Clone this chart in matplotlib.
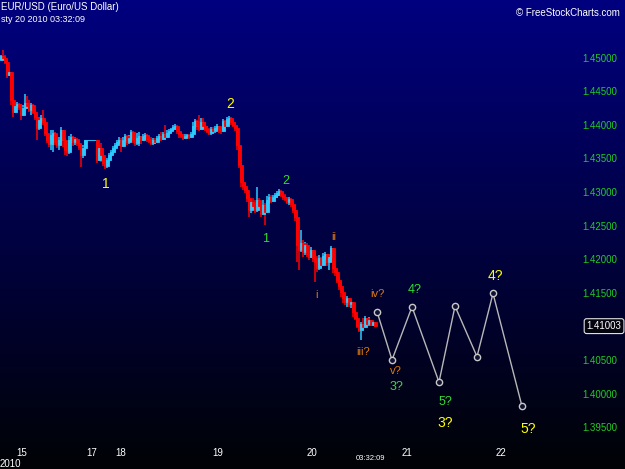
"""EUR/USD 30-minute candles with an Elliott wave count (FreeStockCharts style)."""
import numpy as np
import matplotlib
matplotlib.use('Agg')
import matplotlib.pyplot as plt

plt.rcParams['font.family'] = ['Liberation Sans', 'DejaVu Sans']

# --- data ------------------------------------------------------------------
FIRST_OPEN = 1.4496
CLOSES = [
    1.4502, 1.4499, 1.4493, 1.4474, 1.4478, 1.4437, 1.4419, 1.4428, 1.4431, 1.4426,
    1.4414, 1.4425, 1.4432, 1.4428, 1.4422, 1.4429, 1.4419, 1.4411, 1.4395, 1.4407,
    1.4410, 1.4404, 1.4388, 1.4377, 1.4371, 1.4385, 1.4388, 1.4374, 1.4370, 1.4377,
    1.4392, 1.4377, 1.4362, 1.4359, 1.4377, 1.4382, 1.4374, 1.4379, 1.4373, 1.4367,
    1.4355, 1.4365, 1.4378, 1.4378, 1.4378, 1.4378, 1.4378, 1.4378, 1.4347, 1.4365,
    1.4355, 1.4343, 1.4339, 1.4347, 1.4355, 1.4359, 1.4365, 1.4370, 1.4374, 1.4377,
    1.4368, 1.4377, 1.4383, 1.4374, 1.4380, 1.4389, 1.4377, 1.4373, 1.4380, 1.4383,
    1.4377, 1.4383, 1.4385, 1.4379, 1.4376, 1.4373, 1.4377, 1.4374, 1.4380, 1.4383,
    1.4379, 1.4386, 1.4382, 1.4388, 1.4391, 1.4394, 1.4397, 1.4398, 1.4391, 1.4386,
    1.4383, 1.4380, 1.4383, 1.4385, 1.4382, 1.4386, 1.4398, 1.4405, 1.4398, 1.4393,
    1.4404, 1.4398, 1.4393, 1.4390, 1.4387, 1.4393, 1.4390, 1.4395, 1.4398, 1.4392,
    1.4391, 1.4405, 1.4398, 1.4408, 1.4410, 1.4404, 1.4400, 1.4395, 1.4370, 1.4340,
    1.4315, 1.4309, 1.4303, 1.4291, 1.4273, 1.4285, 1.4279, 1.4273, 1.4288, 1.4279,
    1.4267, 1.4281, 1.4270, 1.4288, 1.4292, 1.4286, 1.4292, 1.4295, 1.4298, 1.4301,
    1.4295, 1.4292, 1.4289, 1.4285, 1.4289, 1.4282, 1.4273, 1.4262, 1.4221, 1.4214,
    1.4224, 1.4211, 1.4221, 1.4207, 1.4203, 1.4214, 1.4202, 1.4196, 1.4187, 1.4202,
    1.4191, 1.4205, 1.4208, 1.4196, 1.4203, 1.4216, 1.4187, 1.4181, 1.4169, 1.4160,
    1.4151, 1.4142, 1.4136, 1.4142, 1.4133, 1.4136, 1.4121, 1.4112, 1.4100, 1.4094,
    1.4103, 1.4099, 1.4112, 1.4103, 1.4109, 1.4102, 1.4106, 1.41003,
]
HIGHS = [
    1.4504, 1.4511, 1.4504, 1.4496, 1.4481, 1.4478, 1.4440, 1.4432, 1.4434, 1.4432,
    1.4431, 1.4429, 1.4446, 1.4443, 1.4437, 1.4432, 1.4431, 1.4422, 1.4414, 1.4411,
    1.4414, 1.4422, 1.4407, 1.4389, 1.4383, 1.4392, 1.4392, 1.4389, 1.4380, 1.4382,
    1.4396, 1.4392, 1.4380, 1.4370, 1.4383, 1.4386, 1.4383, 1.4382, 1.4380, 1.4377,
    1.4370, 1.4370, 1.4378, 1.4378, 1.4378, 1.4378, 1.4378, 1.4378, 1.4378, 1.4370,
    1.4373, 1.4358, 1.4347, 1.4350, 1.4358, 1.4362, 1.4368, 1.4373, 1.4377, 1.4382,
    1.4380, 1.4382, 1.4386, 1.4385, 1.4385, 1.4392, 1.4391, 1.4383, 1.4388, 1.4389,
    1.4383, 1.4386, 1.4388, 1.4386, 1.4383, 1.4382, 1.4380, 1.4380, 1.4383, 1.4386,
    1.4389, 1.4389, 1.4400, 1.4392, 1.4394, 1.4395, 1.4400, 1.4401, 1.4400, 1.4394,
    1.4389, 1.4386, 1.4386, 1.4386, 1.4386, 1.4389, 1.4404, 1.4408, 1.4407, 1.4414,
    1.4410, 1.4410, 1.4404, 1.4398, 1.4395, 1.4396, 1.4396, 1.4398, 1.4401, 1.4398,
    1.4397, 1.4408, 1.4407, 1.4411, 1.4413, 1.4411, 1.4407, 1.4403, 1.4398, 1.4370,
    1.4343, 1.4318, 1.4313, 1.4306, 1.4296, 1.4290, 1.4291, 1.4288, 1.4307, 1.4291,
    1.4282, 1.4288, 1.4284, 1.4294, 1.4297, 1.4295, 1.4295, 1.4298, 1.4301, 1.4304,
    1.4303, 1.4300, 1.4297, 1.4292, 1.4292, 1.4291, 1.4285, 1.4281, 1.4266, 1.4228,
    1.4243, 1.4228, 1.4225, 1.4224, 1.4214, 1.4218, 1.4214, 1.4211, 1.4205, 1.4206,
    1.4203, 1.4209, 1.4211, 1.4208, 1.4208, 1.4219, 1.4216, 1.4190, 1.4184, 1.4173,
    1.4166, 1.4154, 1.4148, 1.4145, 1.4142, 1.4139, 1.4136, 1.4124, 1.4115, 1.4103,
    1.4106, 1.4112, 1.4115, 1.4112, 1.4114, 1.4110, 1.4108, 1.4106,
]
LOWS = [
    1.4496, 1.4496, 1.4491, 1.4469, 1.4472, 1.4429, 1.4411, 1.4417, 1.4425, 1.4422,
    1.4407, 1.4413, 1.4422, 1.4423, 1.4419, 1.4414, 1.4416, 1.4407, 1.4377, 1.4392,
    1.4401, 1.4400, 1.4383, 1.4373, 1.4367, 1.4362, 1.4359, 1.4370, 1.4365, 1.4362,
    1.4370, 1.4367, 1.4355, 1.4353, 1.4357, 1.4373, 1.4368, 1.4370, 1.4368, 1.4362,
    1.4337, 1.4350, 1.4362, 1.4378, 1.4378, 1.4378, 1.4378, 1.4378, 1.4343, 1.4347,
    1.4344, 1.4338, 1.4334, 1.4335, 1.4344, 1.4352, 1.4358, 1.4362, 1.4367, 1.4371,
    1.4359, 1.4367, 1.4374, 1.4370, 1.4371, 1.4374, 1.4373, 1.4368, 1.4370, 1.4368,
    1.4371, 1.4376, 1.4377, 1.4374, 1.4373, 1.4370, 1.4370, 1.4371, 1.4373, 1.4377,
    1.4376, 1.4377, 1.4377, 1.4380, 1.4385, 1.4388, 1.4391, 1.4392, 1.4386, 1.4380,
    1.4380, 1.4377, 1.4379, 1.4380, 1.4379, 1.4380, 1.4385, 1.4395, 1.4392, 1.4390,
    1.4392, 1.4393, 1.4390, 1.4387, 1.4385, 1.4385, 1.4386, 1.4387, 1.4392, 1.4388,
    1.4386, 1.4389, 1.4395, 1.4396, 1.4401, 1.4400, 1.4396, 1.4390, 1.4362, 1.4335,
    1.4307, 1.4303, 1.4298, 1.4285, 1.4262, 1.4268, 1.4273, 1.4268, 1.4270, 1.4273,
    1.4263, 1.4265, 1.4251, 1.4268, 1.4282, 1.4283, 1.4285, 1.4289, 1.4291, 1.4294,
    1.4292, 1.4288, 1.4286, 1.4282, 1.4281, 1.4277, 1.4268, 1.4257, 1.4196, 1.4184,
    1.4211, 1.4203, 1.4206, 1.4203, 1.4199, 1.4202, 1.4196, 1.4166, 1.4181, 1.4184,
    1.4187, 1.4190, 1.4199, 1.4190, 1.4184, 1.4196, 1.4179, 1.4175, 1.4165, 1.4154,
    1.4144, 1.4135, 1.4132, 1.4129, 1.4129, 1.4127, 1.4114, 1.4109, 1.4097, 1.4091,
    1.4080, 1.4094, 1.4097, 1.4100, 1.4100, 1.4100, 1.4100, 1.4099,
]

# projected wave path (bar index, price)
PROJ_BARS = [188, 195.5, 205.5, 219, 227, 238, 246, 260.5]
PROJ_PRICES = [1.4122, 1.4050, 1.4129, 1.4017, 1.4130, 1.4055, 1.4149, 1.3981]

DAY_TICKS = [10.5, 45.5, 60, 108.5, 155.5, 203, 250]
DAY_LABELS = ['15', '17', '18', '19', '20', '21', '22']
PRICE_TICKS = [1.395, 1.400, 1.405, 1.415, 1.420, 1.425, 1.430,
               1.435, 1.440, 1.445, 1.450]
LAST_PRICE = '1.41003'

# wave count labels: text, bar index, price, degree
WAVE_LABELS = [
    ('1', 52.5, 1.4312, 'major'), ('2', 114.5, 1.4431, 'major'),
    ('3?', 222, 1.3956, 'major'), ('4?', 247, 1.4175, 'major'),
    ('5?', 263.5, 1.3947, 'major'),
    ('1', 132.5, 1.4230, 'minor'), ('2', 142.5, 1.4316, 'minor'),
    ('3?', 198, 1.4010, 'minor'), ('4?', 207, 1.4154, 'minor'),
    ('5?', 222, 1.3987, 'minor'),
    ('i', 158, 1.4147, 'minute'), ('ii', 166.5, 1.4233, 'minute'),
    ('iii?', 181, 1.4062, 'minute'), ('iv?', 188, 1.4148, 'minute'),
    ('v?', 197.5, 1.4034, 'minute'),
]

RED = '#ff0000'
CYAN = '#2ccbff'
LABEL_STYLE = {'major': ('#ffff00', 10), 'minor': ('#33dd33', 9),
               'minute': ('#e07a10', 8)}

# pixel frame of the reference: bar i sits at x = 2i + 1, 6720 px per 1.0
XLIM = (-0.5, 312)
YLIM = (1.38877, 1.45856)

fig = plt.figure(figsize=(6.25, 4.69), dpi=100)
ax = fig.add_axes([0, 0, 1, 1])
ax.set_xlim(*XLIM)
ax.set_ylim(*YLIM)

# navy -> black background
t = np.linspace(0, 1, 256)
bg = np.zeros((256, 1, 3))
bg[:, 0, 2] = 0.50 * (1 - t) + 0.02 * t
bg[:, 0, 1] = 0.01 * t
ax.imshow(bg, extent=[XLIM[0], XLIM[1], YLIM[0], YLIM[1]], aspect='auto',
          origin='upper', zorder=0)

closes = np.array(CLOSES)
opens = np.array([FIRST_OPEN] + CLOSES[:-1])
x = np.arange(len(closes))
colors = np.where(closes >= opens, CYAN, RED)
ax.vlines(x, LOWS, HIGHS, colors=colors, linewidth=1.1, zorder=2)
ax.bar(x, np.abs(closes - opens), bottom=np.minimum(opens, closes), width=1.5,
       color=colors, edgecolor=colors, linewidth=0.6, zorder=3)

ax.plot(PROJ_BARS, PROJ_PRICES, color='#b8b8b8', linewidth=1, marker='o',
        markersize=4.5, markerfacecolor='#101030', markeredgecolor='#c8c8c8',
        markeredgewidth=1, zorder=4)

for text, bar, price, degree in WAVE_LABELS:
    col, size = LABEL_STYLE[degree]
    ax.text(bar, price, text, color=col, fontsize=size, ha='center',
            va='center', zorder=5)

# axes: labels drawn inside the frame like the charting app
for s in ax.spines.values():
    s.set_visible(False)
ax.yaxis.tick_right()
ax.set_yticks(PRICE_TICKS)
ax.set_yticklabels([f'{p:.5f}' for p in PRICE_TICKS])
ax.tick_params(axis='y', length=0, pad=-30.5, labelcolor='#22cc22',
               labelsize=7)
ax.set_xticks(DAY_TICKS)
ax.set_xticklabels(DAY_LABELS)
ax.tick_params(axis='x', length=0, pad=-15, labelcolor='white', labelsize=7)

ax.text(0.9665, CLOSES[-1], LAST_PRICE, transform=ax.get_yaxis_transform(),
        ha='center', va='center', color='white', fontsize=7, zorder=10,
        bbox=dict(boxstyle='round,pad=0.25', fc='#050510', ec='#e0e0e0', lw=0.8))
ax.text(184.5, 1 - 458 / 469, '03:32:09', transform=ax.get_xaxis_transform(),
        ha='center', va='center', color='white', fontsize=5.5)

fig.text(0.002, 1 - 7 / 469, 'EUR/USD (Euro/US Dollar)', color='white',
         fontsize=7, ha='left', va='center')
fig.text(0.002, 1 - 20 / 469, 'sty 20 2010 03:32:09', color='white',
         fontsize=6.5, ha='left', va='center')
fig.text(620 / 625, 1 - 13 / 469, '\u00a9 FreeStockCharts.com', color='white',
         fontsize=7, ha='right', va='center')
fig.text(0.0, 1 - 464 / 469, '2010', color='white', fontsize=7, ha='left',
         va='center')

fig.savefig('out.png', dpi=100)
